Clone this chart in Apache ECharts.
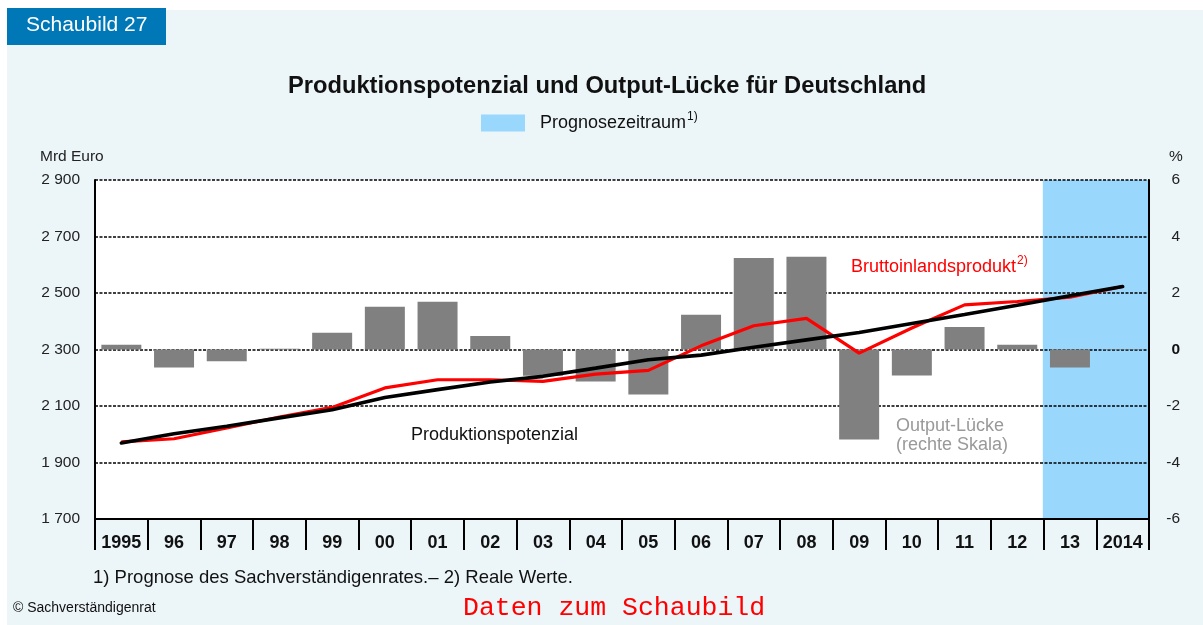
<!DOCTYPE html>
<html>
<head>
<meta charset="utf-8">
<script src="https://cdn.jsdelivr.net/npm/echarts@6/dist/echarts.min.js"></script>
<style>
  html, body { margin: 0; padding: 0; background: #fff; }
  #chart { width: 1203px; height: 625px; }
</style>
</head>
<body>
<div id="chart"></div>
<script>
// Jahre (Kategorien)
var years = ['1995', '96', '97', '98', '99', '00', '01', '02', '03', '04',
  '05', '06', '07', '08', '09', '10', '11', '12', '13', '2014'];
// Output-Lücke in % (rechte Skala)
var outputGap = [0.17, -0.64, -0.42, 0.03, 0.59, 1.51, 1.69, 0.48, -0.93, -1.13,
  -1.59, 1.23, 3.24, 3.28, -3.19, -0.92, 0.80, 0.17, -0.64, 0.02];
// Produktionspotenzial, Mrd Euro
var potenzial = [1969, 2002, 2028, 2058, 2087, 2130, 2158, 2185, 2205, 2234,
  2264, 2280, 2308, 2334, 2360, 2392, 2424, 2457, 2490, 2523];
// Bruttoinlandsprodukt (real), Mrd Euro
var bip = [1973, 1984, 2022, 2061, 2095, 2164, 2193, 2193, 2187, 2213,
  2226, 2313, 2384, 2410, 2287, 2376, 2458, 2470, 2485, 2523];
// Prognosezeitraum
var prognoseJahre = ['13', '2014'];
var leftTicks = { min: 1700, max: 2900, step: 200 };
var rightTicks = { min: -6, max: 6, step: 2 };

var FONT = 'Liberation Sans, Arial, sans-serif';

var prognose = years.map(function (y) {
  return prognoseJahre.indexOf(y) >= 0 ? leftTicks.max : null;
});

var chart = echarts.init(document.getElementById('chart'));

var option = {
  backgroundColor: '#fff',
  animation: false,
  textStyle: { fontFamily: FONT },
  title: {
    text: 'Produktionspotenzial und Output-Lücke für Deutschland',
    left: 288,
    top: 74,
    padding: 0,
    textStyle: { fontSize: 23.7, fontWeight: 'bold', color: '#111', fontFamily: FONT }
  },
  legend: {
    left: 481,
    top: 111,
    padding: 0,
    itemWidth: 44,
    itemHeight: 17,
    data: [{ name: 'Prognosezeitraum', icon: 'rect' }],
    formatter: function (n) { return '{t|' + n + '}{s|1)}'; },
    textStyle: {
      color: '#111', fontFamily: FONT,
      rich: {
        t: { fontSize: 18, padding: [0, 0, 0, 10], fontFamily: FONT },
        s: { fontSize: 12, padding: [0, 0, 12, 1], fontFamily: FONT }
      }
    }
  },
  grid: {
    left: 95, right: 54, top: 180, bottom: 106,
    show: true, backgroundColor: '#fff', borderWidth: 0, z: 0
  },
  xAxis: [{
    type: 'category',
    data: years,
    z: 4,
    axisLine: { onZero: false, lineStyle: { color: '#000', width: 2 } },
    axisTick: { show: true, interval: 0, length: 31, lineStyle: { color: '#000', width: 2 } },
    axisLabel: { interval: 0, margin: 15, fontSize: 18, fontWeight: 'bold', color: '#111', fontFamily: FONT },
    splitLine: { show: false }
  }, {
    type: 'category',
    data: years,
    show: false
  }],
  yAxis: [{
    type: 'value',
    min: leftTicks.min, max: leftTicks.max, interval: leftTicks.step,
    position: 'left',
    z: 2,
    axisLine: { show: true, onZero: false, lineStyle: { color: '#000', width: 2 } },
    axisTick: { show: false },
    axisLabel: {
      margin: 15, fontSize: 15.5, color: '#222', fontFamily: FONT,
      formatter: function (v) { return String(v).replace(/\B(?=(\d{3})+(?!\d))/g, ' '); }
    },
    splitLine: { show: true, lineStyle: { color: '#000', width: 1.5, type: [3, 1.5] } }
  }, {
    type: 'value',
    min: rightTicks.min, max: rightTicks.max, interval: rightTicks.step,
    position: 'right',
    z: 2,
    axisLine: { show: true, onZero: false, lineStyle: { color: '#000', width: 2 } },
    axisTick: { show: false },
    axisLabel: {
      margin: 31, align: 'right', fontSize: 15.5, color: '#222', fontFamily: FONT,
      formatter: function (v) { return v === 0 ? '{b|0}' : String(v); },
      rich: { b: { fontWeight: 'bold', fontSize: 15.5, color: '#111', fontFamily: FONT } }
    },
    splitLine: { show: false }
  }],
  series: [{
    name: 'Prognosezeitraum',
    type: 'bar',
    xAxisIndex: 1,
    yAxisIndex: 0,
    data: prognose,
    barWidth: '103%',
    itemStyle: { color: '#9ad7fd' },
    z: 1,
    silent: true
  }, {
    name: 'Output-Lücke',
    type: 'bar',
    xAxisIndex: 0,
    yAxisIndex: 1,
    data: outputGap,
    barWidth: 40,
    itemStyle: { color: '#808080' },
    z: 3
  }, {
    name: 'Bruttoinlandsprodukt',
    type: 'line',
    yAxisIndex: 0,
    data: bip,
    symbol: 'none',
    lineStyle: { color: '#ff0000', width: 3.2 },
    z: 4
  }, {
    name: 'Produktionspotenzial',
    type: 'line',
    yAxisIndex: 0,
    data: potenzial,
    symbol: 'none',
    lineStyle: { color: '#000', width: 3.6, cap: 'round' },
    z: 5
  }],
  graphic: [
    { type: 'rect', z: -10, shape: { x: 7, y: 10, width: 1196, height: 615 }, style: { fill: '#ecf5f8' } },
    { type: 'rect', z: -9, shape: { x: 7, y: 8, width: 159, height: 37 }, style: { fill: '#0078b8' } },
    { type: 'text', left: 26, top: 15, style: { text: 'Schaubild 27', fill: '#fff', fontSize: 21, fontFamily: FONT } },
    { type: 'text', left: 40, top: 149, style: { text: 'Mrd Euro', fill: '#222', fontSize: 15.5, fontFamily: FONT } },
    { type: 'text', left: 1169, top: 149, style: { text: '%', fill: '#222', fontSize: 15.5, fontFamily: FONT } },
    { type: 'text', left: 411, top: 426, z: 10, style: { text: 'Produktionspotenzial', fill: '#111', fontSize: 18, fontFamily: FONT } },
    { type: 'text', left: 851, top: 255, z: 10, style: {
      text: '{t|Bruttoinlandsprodukt}{s|2)}', fill: '#ff0000', fontFamily: FONT,
      rich: {
        t: { fontSize: 18, fill: '#ff0000', fontFamily: FONT },
        s: { fontSize: 12, fill: '#ff0000', padding: [0, 0, 12, 1], fontFamily: FONT }
      }
    } },
    { type: 'text', left: 896, top: 417, z: 10, style: {
      text: 'Output-Lücke\n(rechte Skala)', fill: '#999', fontSize: 18, lineHeight: 19, fontFamily: FONT
    } },
    { type: 'text', left: 93, top: 568, style: { text: '1) Prognose des Sachverständigenrates.– 2) Reale Werte.', fill: '#111', fontSize: 18.5, fontFamily: FONT } },
    { type: 'text', left: 13, top: 601, style: { text: '© Sachverständigenrat', fill: '#111', fontSize: 14, fontFamily: FONT } },
    { type: 'text', left: 463, top: 594, style: { text: 'Daten zum Schaubild', fill: '#ff0000', fontSize: 26.5, fontFamily: 'Liberation Mono, Courier New, monospace' } }
  ]
};

chart.setOption(option);
</script>
</body>
</html>
